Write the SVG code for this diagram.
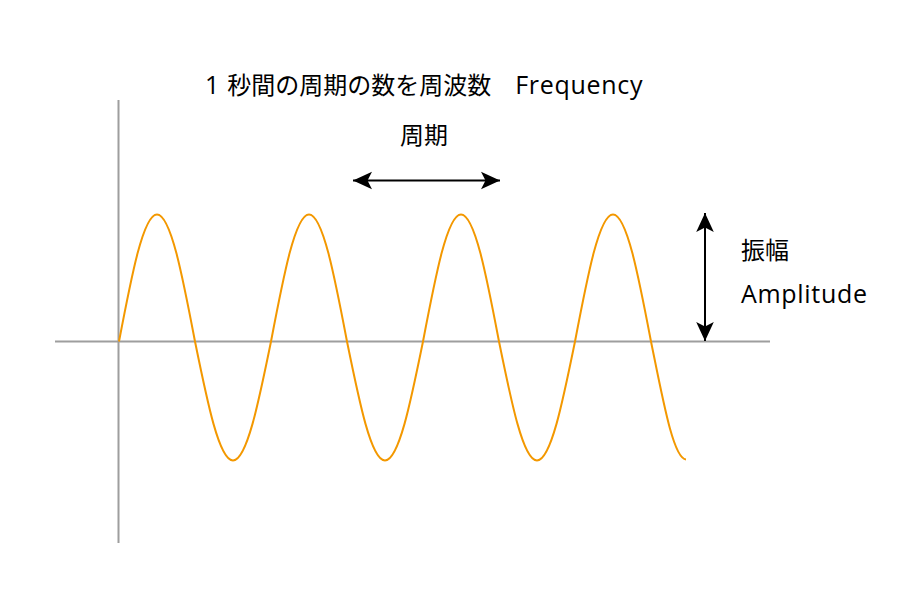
<svg xmlns="http://www.w3.org/2000/svg" width="923" height="595" viewBox="0 0 923 595">
  <style>
    .axis { stroke: #9e9e9e; stroke-width: 2; fill: none; }
    .wave { stroke: #f39800; stroke-width: 2; fill: none; }
    .arrow { stroke: #000; stroke-width: 2; fill: none; }
    .label { font-family: "Open Sans", "Noto Sans CJK JP", sans-serif; font-size: 24px; fill: #000; }
    .lat { font-size: 25px; letter-spacing: 0.7px; }
  </style>
  <defs>
    <marker id="head" markerUnits="userSpaceOnUse" markerWidth="22" markerHeight="22" viewBox="-1 -10 22 20" refX="19" refY="0" orient="auto-start-reverse">
      <path d="M0,-8.8 L19,0 L0,8.8 L4.5,0 Z" fill="#000"/>
    </marker>
  </defs>
  <g id="axes">
    <line class="axis" x1="55" y1="341.5" x2="770" y2="341.5"/>
    <line class="axis" x1="118.5" y1="100" x2="118.5" y2="543"/>
  </g>
  <g id="wave">
    <path class="wave" d="M119,341.5
      c12.39,-65.06 24.25,-127 38,-127 c13.75,0 25.61,61.94 38,127 c12.39,60.96 24.25,119 38,119 c13.75,0 25.61,-58.04 38,-119
      c12.39,-65.06 24.25,-127 38,-127 c13.75,0 25.61,61.94 38,127 c12.39,60.96 24.25,119 38,119 c13.75,0 25.61,-58.04 38,-119
      c12.39,-65.06 24.25,-127 38,-127 c13.75,0 25.61,61.94 38,127 c12.39,60.96 24.25,119 38,119 c13.75,0 25.61,-58.04 38,-119
      c12.39,-65.06 24.25,-127 38,-127 c13.75,0 25.61,61.94 38,127 c12.39,60.96 22.5,117 35,118"/>
  </g>
  <g id="connectors">
    <line class="arrow" x1="353" y1="180.5" x2="500" y2="180.5" marker-start="url(#head)" marker-end="url(#head)"/>
    <line class="arrow" x1="705" y1="213" x2="705" y2="341" marker-start="url(#head)" marker-end="url(#head)"/>
  </g>
  <g id="title">
    <text class="label" x="205" y="94"><tspan class="lat">1 </tspan>秒間の周期の数を周波数　<tspan class="lat">Frequency</tspan></text>
  </g>
  <g id="period-label">
    <text class="label" x="424" y="144" text-anchor="middle">周期</text>
  </g>
  <g id="amplitude-label">
    <text class="label" x="741" y="259">振幅</text>
    <text class="label lat" x="741" y="303">Amplitude</text>
  </g>
</svg>
